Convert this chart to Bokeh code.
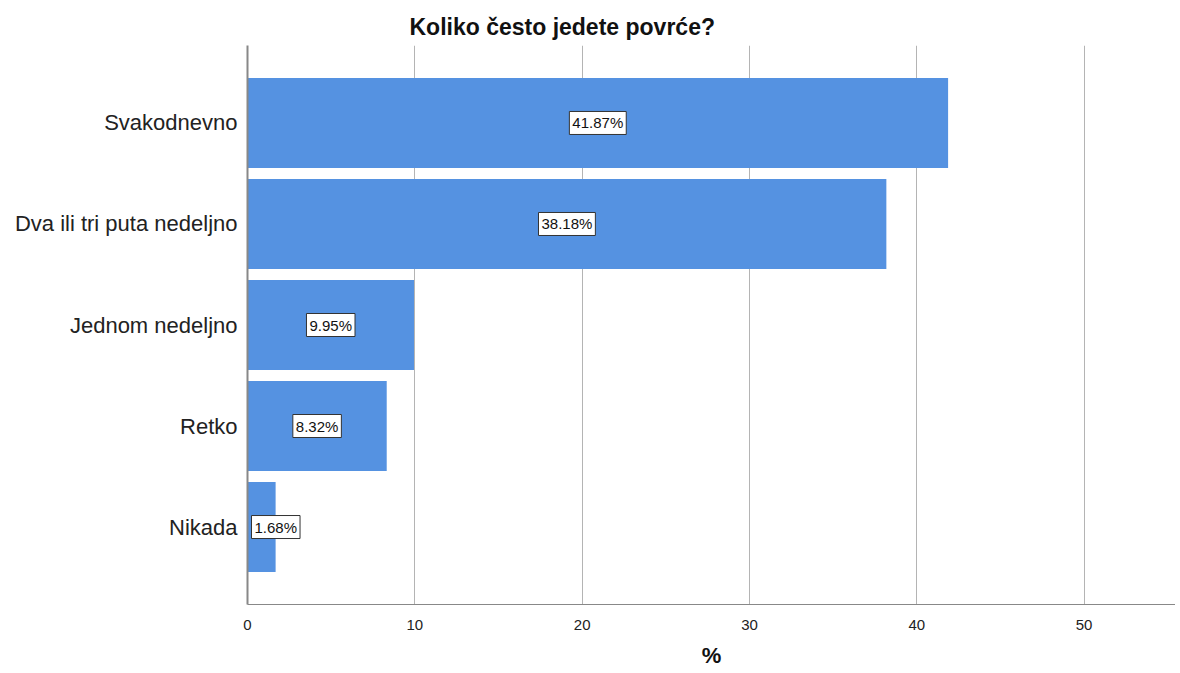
from bokeh.plotting import figure
from bokeh.models import ColumnDataSource, Range1d, FactorRange, FixedTicker, Title
from bokeh.core.properties import value
from bokeh.embed import file_html
from bokeh.resources import INLINE

categories = ["Svakodnevno", "Dva ili tri puta nedeljno", "Jednom nedeljno", "Retko", "Nikada"]
percentages = [41.87, 38.18, 9.95, 8.32, 1.68]
x_ticks = [0, 10, 20, 30, 40, 50]

# labels sit in the middle of the bar, or at its start when the bar is too short
aligns = ["left" if v < 4 else "center" for v in percentages]
src = ColumnDataSource(dict(
    cat=categories,
    val=percentages,
    lx=[0 if a == "left" else v / 2 for v, a in zip(percentages, aligns)],
    lxo=[4 if a == "left" else 0 for a in aligns],
    la=aligns,
    lab=["%.2f%%" % v for v in percentages],
))

p = figure(
    width=1175, height=673,
    x_range=Range1d(0, 55.46),
    y_range=FactorRange(factors=list(reversed(categories)), range_padding=0.267,
                        range_padding_units="absolute"),
    output_backend="svg", toolbar_location=None,
    min_border_left=247, min_border_top=45, min_border_bottom=69, min_border_right=0,
)
p.title = Title(text="Koliko često jedete povrće?", align="left", offset=162,
                text_font="Liberation Sans", text_font_size="23px", text_font_style="bold",
                text_color="#111111", standoff=11)

p.hbar(y="cat", right="val", left=0, height=0.89, source=src,
       fill_color="#5592E1", line_color=None)

p.text(x="lx", y="cat", text="lab", source=src, x_offset="lxo",
       text_align="la", text_baseline="middle",
       text_font=value("Liberation Sans"), text_font_size="15px", text_color="#111111",
       background_fill_color="white", border_line_color="#333333",
       border_line_width=1, padding=3)

p.outline_line_color = None
p.ygrid.grid_line_color = None
p.xgrid.grid_line_color = "#B4B4B4"
p.xgrid.ticker = FixedTicker(ticks=x_ticks)
p.xgrid.level = "underlay"
p.xaxis.ticker = FixedTicker(ticks=x_ticks)
p.xaxis.axis_label = "%"
p.xaxis.axis_label_text_font = "Liberation Sans"
p.xaxis.axis_label_text_font_size = "22px"
p.xaxis.axis_label_text_font_style = "bold"
p.xaxis.axis_label_text_color = "#111111"
p.xaxis.axis_label_standoff = 10
p.xaxis.major_label_text_font = "Liberation Sans"
p.xaxis.major_label_text_font_size = "15px"
p.xaxis.major_label_text_color = "#222222"
p.xaxis.major_label_standoff = 9
p.xaxis.axis_line_color = "#888888"
p.xaxis.major_tick_line_color = None
p.xaxis.minor_tick_line_color = None

p.yaxis.axis_line_color = "#888888"
p.yaxis.axis_line_width = 2
p.yaxis.major_tick_line_color = None
p.yaxis.minor_tick_line_color = None
p.yaxis.major_label_text_font = "Liberation Sans"
p.yaxis.major_label_text_font_size = "22px"
p.yaxis.major_label_text_color = "#222222"
p.yaxis.major_label_standoff = 4

open("out.html", "w").write(file_html(p, INLINE))
